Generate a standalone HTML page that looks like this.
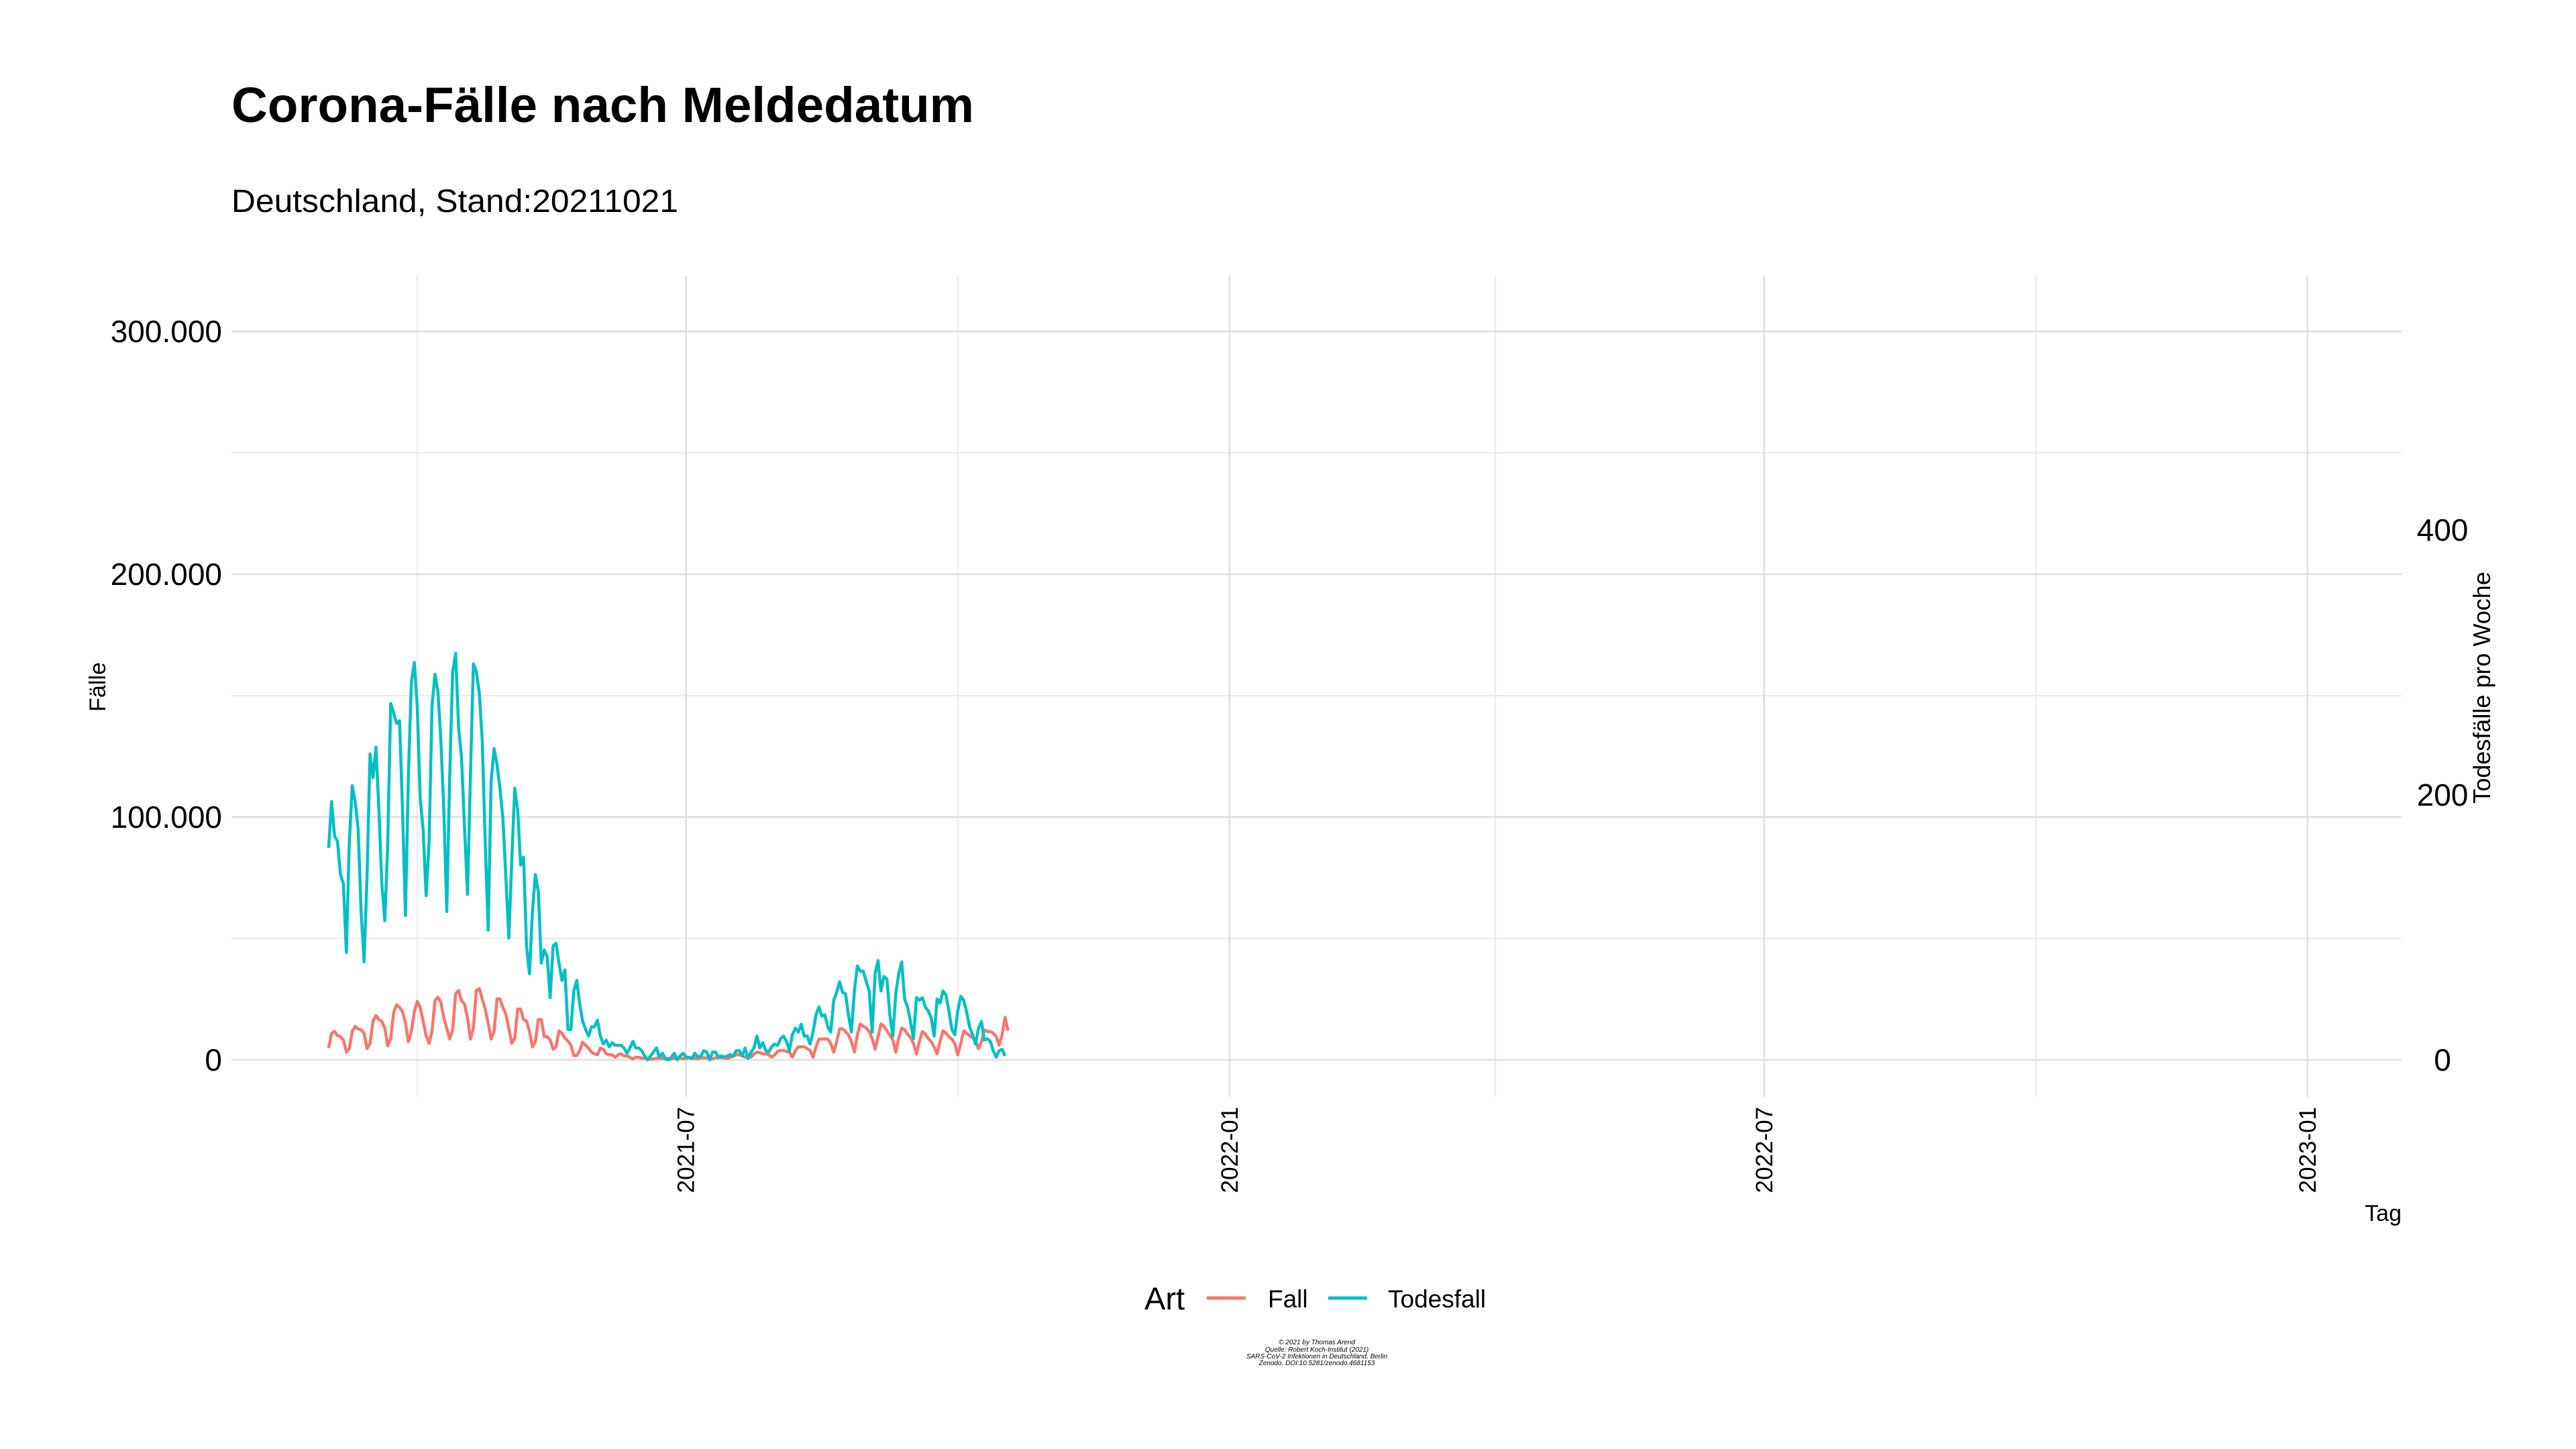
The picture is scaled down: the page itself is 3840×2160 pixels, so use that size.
<!DOCTYPE html>
<html><head><meta charset="utf-8"><style>
html,body{margin:0;padding:0;background:#fff;}
svg{display:block;font-family:"Liberation Sans",sans-serif;}
</style></head><body>
<svg id="chart" width="3840" height="2160" viewBox="0 0 3840 2160" xmlns="http://www.w3.org/2000/svg">
<rect width="3840" height="2160" fill="#fff"/>
<text x="345" y="182" font-size="74" font-weight="bold" textLength="1107" lengthAdjust="spacingAndGlyphs">Corona-Fälle nach Meldedatum</text>
<text x="345" y="316" font-size="48" textLength="666" lengthAdjust="spacingAndGlyphs">Deutschland, Stand:20211021</text>
<g id="grid"></g>
<g id="axes"></g>
<g id="series"></g>
<text transform="translate(157,1024) rotate(-90)" text-anchor="middle" font-size="34">Fälle</text>
<text transform="translate(3712,1025) rotate(-90)" text-anchor="middle" font-size="36">Todesfälle pro Woche</text>
<text x="3580" y="1820" text-anchor="end" font-size="34">Tag</text>
<g>
<text x="1706" y="1952" font-size="47">Art</text>
<line x1="1799" y1="1935" x2="1857" y2="1935" stroke="#F8766D" stroke-width="5"/>
<text x="1890" y="1949" font-size="37">Fall</text>
<line x1="1980" y1="1935" x2="2038" y2="1935" stroke="#00BFC4" stroke-width="5"/>
<text x="2069" y="1949" font-size="37">Todesfall</text>
</g>
<g font-size="10" font-style="italic" text-anchor="middle">
<text x="1963" y="2004">© 2021 by Thomas Arend</text>
<text x="1963" y="2015">Quelle: Robert Koch-Institut (2021)</text>
<text x="1963" y="2025">SARS-CoV-2 Infektionen in Deutschland, Berlin</text>
<text x="1963" y="2035">Zenodo. DOI:10.5281/zenodo.4681153</text>
</g>
</svg>
<script>
// Start date of both series: 2021-03-02 (daily)
const startDate = "2021-03-02";
// Fall in thousands per day
const fallValues = [4.9,11.0,11.7,10.0,9.6,8.2,3.2,4.7,11.7,13.8,12.8,12.4,11.0,4.7,6.8,15.9,18.3,16.6,15.9,13.1,5.8,8.9,19.5,22.7,21.6,19.9,15.2,7.5,11.7,19.9,24.1,21.6,15.9,10.0,6.8,11.7,24.4,25.8,23.7,17.3,13.1,8.6,12.4,27.2,28.6,24.4,23.0,17.3,8.6,13.1,28.6,29.3,25.1,20.9,15.2,8.6,11.7,25.1,25.1,21.6,18.8,13.1,6.8,8.9,20.9,20.9,16.6,15.9,11.7,5.4,7.5,16.6,16.6,9.6,9.6,8.2,4.4,5.4,12.0,11.0,8.9,7.8,6.1,1.8,1.8,3.9,7.2,6.1,4.7,3.2,2.5,2.1,4.9,4.4,2.5,2.1,2.1,1.1,2.1,2.5,1.6,1.6,1.1,0.4,1.1,1.1,0.7,0.7,0.4,0.4,0.4,0.7,0.7,0.7,0.4,0.7,0.4,0.6,0.9,0.8,0.5,0.6,0.9,0.8,0.7,0.5,0.8,0.9,0.8,0.6,0.5,0.9,1.0,0.9,0.8,0.6,1.0,1.6,2.1,2.1,1.8,1.1,1.8,1.1,2.5,3.2,3.0,2.5,2.5,2.1,1.1,2.1,3.5,3.9,3.9,3.5,3.2,1.1,3.9,5.4,5.4,5.4,4.7,3.9,1.1,5.4,8.6,8.6,8.6,8.6,6.8,3.2,7.5,12.8,12.8,11.7,10.3,7.5,3.2,10.3,14.8,13.8,13.1,11.7,8.9,4.4,9.6,14.8,13.8,12.0,10.3,8.2,3.2,8.9,13.1,12.4,10.6,9.2,6.8,2.5,7.5,11.7,10.6,8.9,7.5,5.4,2.5,7.5,12.0,11.0,9.6,8.6,6.8,2.1,6.8,12.0,11.0,10.0,9.2,7.8,4.7,7.5,12.4,11.7,11.7,11.0,9.6,6.1,10.3,17.6,12.0];
// Todesfaelle (right axis units)
const todesValues = [160,195,169,165,140,133,81,164,207,195,174,112,74,138,231,213,236,189,133,105,164,269,262,254,256,189,109,215,285,300,267,197,174,124,164,267,291,278,241,189,112,215,293,307,251,228,176,125,215,299,293,277,241,164,98,210,235,223,205,182,138,92,151,205,189,147,153,86,65,112,140,127,73,83,78,47,86,88,73,60,68,23,23,52,60,42,29,23,18,25,25,30,18,12,15,10,13,11,11,11,9,5,9,14,9,9,7,3,0,3,6,9,2,5,1,0,2,5,0,3,5,2,2,1,5,2,3,7,6,0,6,6,2,3,2,3,4,3,7,7,3,9,1,6,9,18,9,13,7,6,10,12,11,16,18,14,7,19,24,21,27,18,18,12,21,34,40,33,34,25,21,45,51,59,51,50,34,21,52,71,67,67,59,52,21,65,75,52,63,61,34,18,50,65,74,46,40,29,16,47,45,47,40,37,32,18,46,43,52,49,37,23,19,37,48,45,36,25,19,12,24,29,15,16,14,7,2,7,8,3];
const leftTicks = [0,100000,200000,300000];
const leftTickLabels = ["0","100.000","200.000","300.000"];
const leftMinor = [50000,150000,250000];
const rightTicks = [0,200,400];
const rightTickLabels = ["0","200","400"];
const xMajorDates = ["2021-07-01","2022-01-01","2022-07-01","2023-01-01"];
const xMajorLabels = ["2021-07","2022-01","2022-07","2023-01"];
const xMinorDates = ["2021-04-01","2021-10-01","2022-04-01","2022-10-01"];

const NS="http://www.w3.org/2000/svg";
const PL=345, PR=3580, PT=411, PB=1635;
const DAY=86400000, ref=Date.UTC(2021,3,1);
function dayOf(s){const p=s.split("-");return (Date.UTC(+p[0],+p[1]-1,+p[2])-ref)/DAY;}
function xScale(d){return 622+d*4.403;}
function yLeft(v){return 1580-v*(362/100000);}
function yRight(v){return 1580-v*(395/200);}
function mk(tag,attrs,parent){const e=document.createElementNS(NS,tag);for(const k in attrs)e.setAttribute(k,attrs[k]);parent.appendChild(e);return e;}
const grid=document.getElementById("grid"), axes=document.getElementById("axes"), series=document.getElementById("series");

leftMinor.forEach(v=>{const l=mk("line",{x1:PL,x2:PR,y1:yLeft(v),y2:yLeft(v),stroke:"#ebebeb","stroke-width":2},grid);

});
xMinorDates.forEach(s=>{const x=xScale(dayOf(s));const l=mk("line",{x1:x,x2:x,y1:PT,y2:PB,stroke:"#ebebeb","stroke-width":2},grid);

});
leftTicks.forEach((v,i)=>{const y=yLeft(v);const l=mk("line",{x1:PL,x2:PR,y1:y,y2:y,stroke:"#dedede","stroke-width":2.5},grid);


const t=mk("text",{x:331,y:y+16,"text-anchor":"end","font-size":46},axes);t.textContent=leftTickLabels[i];

});
rightTicks.forEach((v,i)=>{const y=yRight(v);const t=mk("text",{x:3641,y:y+16,"text-anchor":"middle","font-size":46},axes);t.textContent=rightTickLabels[i];

});
xMajorDates.forEach((s,i)=>{const x=xScale(dayOf(s));const l=mk("line",{x1:x,x2:x,y1:PT,y2:PB,stroke:"#dedede","stroke-width":2.5},grid);


const t=mk("text",{transform:`translate(${x+12},1650) rotate(-90)`,"text-anchor":"end","font-size":35},axes);t.textContent=xMajorLabels[i];

});

const d0=dayOf(startDate);
function path(vals,yf){return vals.map((v,i)=>(i?"L":"M")+xScale(d0+i).toFixed(1)+","+yf(v).toFixed(1)).join("");}
const pf=mk("path",{d:path(fallValues,v=>yLeft(v*1000)),fill:"none",stroke:"#F8766D","stroke-width":4.5,"stroke-linejoin":"round"},series);


const pt=mk("path",{d:path(todesValues,yRight),fill:"none",stroke:"#00BFC4","stroke-width":4.5,"stroke-linejoin":"round"},series);


</script>
</body></html>
